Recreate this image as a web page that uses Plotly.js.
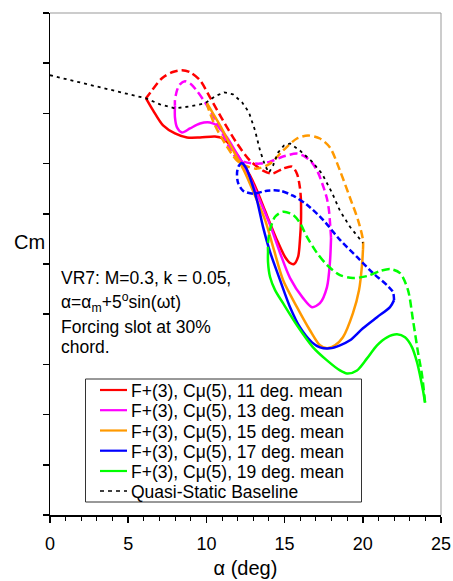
<!DOCTYPE html>
<html>
<head>
<meta charset="utf-8">
<script src="https://cdn.plot.ly/plotly-3.0.1.min.js"></script>
<style>
  html, body { margin: 0; padding: 0; background: #fff; }
  #chart { width: 453px; height: 581px; }
</style>
</head>
<body>
<div id="chart"></div>
<script>
// VR7 airfoil, pitching moment loops with slot forcing, F+(3), Cmu(5)
// Each loop: upstroke (solid) and downstroke (dashed), alpha = alpha_m + 5 sin(wt)

const mean11UpAlpha = [6.14,6.59,7.23,7.99,8.76,9.59,10.55,11.06,11.64,12.34,12.79,13.24,13.75,14.51,15.03,15.35,15.60,15.86,15.98,16.05,16.05];
const mean11UpCm    = [-0.085,-0.097,-0.112,-0.120,-0.124,-0.124,-0.123,-0.125,-0.134,-0.150,-0.162,-0.177,-0.197,-0.226,-0.243,-0.249,-0.250,-0.243,-0.226,-0.206,-0.187];
const mean11DownAlpha = [16.05,15.98,15.79,15.47,14.90,14.19,13.62,12.79,11.96,11.06,10.23,9.59,8.95,8.44,7.80,7.16,6.52,6.14];
const mean11DownCm    = [-0.187,-0.174,-0.160,-0.153,-0.155,-0.160,-0.157,-0.147,-0.130,-0.107,-0.084,-0.067,-0.059,-0.057,-0.059,-0.065,-0.077,-0.085];

const mean13UpAlpha = [7.99,7.99,8.12,8.44,8.95,9.59,10.23,10.68,11.32,11.83,12.34,12.79,13.43,14.07,14.71,15.35,16.18,16.75,17.26,17.71,17.90,17.97];
const mean13UpCm    = [-0.092,-0.104,-0.114,-0.119,-0.115,-0.110,-0.109,-0.112,-0.124,-0.137,-0.150,-0.164,-0.187,-0.211,-0.239,-0.264,-0.284,-0.293,-0.289,-0.273,-0.248,-0.224];
const mean13DownAlpha = [17.97,17.90,17.84,17.71,17.52,17.14,16.75,16.30,15.79,14.90,14.07,13.43,12.60,11.96,11.51,11.00,10.42,9.91,9.46,9.02,8.63,8.31,8.12,7.99,7.99];
const mean13DownCm    = [-0.224,-0.208,-0.197,-0.185,-0.175,-0.159,-0.149,-0.143,-0.140,-0.143,-0.148,-0.150,-0.149,-0.145,-0.135,-0.119,-0.102,-0.089,-0.079,-0.071,-0.068,-0.071,-0.077,-0.087,-0.092];

const mean15UpAlpha = [10.04,10.42,10.87,11.38,11.89,12.47,13.11,13.75,14.32,14.90,15.79,16.62,17.26,17.71,18.22,18.73,19.37,19.76,19.95,20.01];
const mean15UpCm    = [-0.090,-0.100,-0.112,-0.127,-0.142,-0.159,-0.182,-0.206,-0.236,-0.266,-0.293,-0.316,-0.331,-0.334,-0.331,-0.323,-0.299,-0.276,-0.251,-0.236];
const mean15DownAlpha = [20.01,20.01,19.69,19.18,18.54,17.90,17.26,16.50,15.79,14.90,14.07,13.24,12.47,11.96,11.19,10.55,10.10,10.04];
const mean15DownCm    = [-0.236,-0.226,-0.206,-0.184,-0.157,-0.134,-0.125,-0.122,-0.125,-0.137,-0.150,-0.155,-0.152,-0.147,-0.130,-0.112,-0.094,-0.090];

const mean17UpAlpha = [12.28,12.53,12.79,13.24,13.62,14.07,14.71,15.35,15.98,16.75,17.26,17.90,18.54,19.18,20.01,20.91,21.74,22.00];
const mean17UpCm    = [-0.149,-0.154,-0.164,-0.187,-0.213,-0.238,-0.266,-0.293,-0.313,-0.328,-0.333,-0.334,-0.331,-0.326,-0.314,-0.303,-0.293,-0.286];
const mean17DownAlpha = [22.00,21.93,21.61,20.65,19.63,18.54,17.46,16.43,15.54,14.71,13.87,12.98,12.34,12.02,11.96,12.08,12.28];
const mean17DownCm    = [-0.286,-0.278,-0.272,-0.259,-0.243,-0.226,-0.206,-0.191,-0.182,-0.177,-0.177,-0.180,-0.177,-0.169,-0.159,-0.152,-0.149];

const mean19UpAlpha = [13.94,13.94,14.07,14.39,14.90,15.79,16.82,17.71,18.54,18.99,19.63,20.27,20.91,21.55,22.19,22.70,23.15,23.47,23.66,23.85,23.98];
const mean19UpCm    = [-0.238,-0.248,-0.263,-0.276,-0.289,-0.311,-0.333,-0.346,-0.356,-0.359,-0.356,-0.344,-0.331,-0.323,-0.320,-0.323,-0.333,-0.348,-0.361,-0.376,-0.388];
const mean19DownAlpha = [23.98,23.79,23.53,23.21,22.89,22.38,21.74,21.10,20.27,19.37,18.54,17.71,17.07,16.43,15.98,15.54,14.90,14.39,14.07,13.94,13.94];
const mean19DownCm    = [-0.388,-0.361,-0.338,-0.306,-0.276,-0.259,-0.255,-0.257,-0.262,-0.264,-0.261,-0.251,-0.239,-0.223,-0.209,-0.201,-0.198,-0.203,-0.216,-0.229,-0.238];

const baselineAlpha = [0,6.14,7.03,7.99,8.95,9.91,10.55,11.13,11.70,12.28,12.72,13.11,13.43,13.75,14.00,14.26,14.58,14.96,15.35,15.98,16.75,17.39,18.03,18.54,19.18,19.69,20.01];
const baselineCm    = [-0.062,-0.085,-0.091,-0.095,-0.093,-0.090,-0.083,-0.079,-0.081,-0.089,-0.099,-0.117,-0.137,-0.152,-0.159,-0.152,-0.139,-0.132,-0.130,-0.137,-0.148,-0.160,-0.179,-0.197,-0.213,-0.223,-0.229];

const seriesNames = [
  'F+(3), C\u03bc(5), 11 deg. mean',
  'F+(3), C\u03bc(5), 13 deg. mean',
  'F+(3), C\u03bc(5), 15 deg. mean',
  'F+(3), C\u03bc(5), 17 deg. mean',
  'F+(3), C\u03bc(5), 19 deg. mean',
  'Quasi-Static Baseline'
];
const xTickValues = [0, 5, 10, 15, 20, 25];

const loops = [
  [mean11UpAlpha, mean11UpCm, mean11DownAlpha, mean11DownCm],
  [mean13UpAlpha, mean13UpCm, mean13DownAlpha, mean13DownCm],
  [mean15UpAlpha, mean15UpCm, mean15DownAlpha, mean15DownCm],
  [mean17UpAlpha, mean17UpCm, mean17DownAlpha, mean17DownCm],
  [mean19UpAlpha, mean19UpCm, mean19DownAlpha, mean19DownCm]
];
const colors = ['#ff0000', '#ff00ff', '#ff9900', '#0000ff', '#00ff00'];
const FONT = 'Liberation Sans, Arial, Helvetica, sans-serif';

const traces = [];
loops.forEach(function (lp, i) {
  traces.push({
    x: lp[0], y: lp[1], type: 'scatter', mode: 'lines', name: seriesNames[i],
    showlegend: false, hoverinfo: 'skip',
    line: { color: colors[i], width: 2.5, shape: 'spline', smoothing: 0.8 }
  });
  traces.push({
    x: lp[2], y: lp[3], type: 'scatter', mode: 'lines', name: seriesNames[i],
    showlegend: false, hoverinfo: 'skip',
    line: { color: colors[i], width: 2.5, dash: i === 3 ? '6px,3px' : '8px,4px', shape: 'spline', smoothing: 0.8 }
  });
});
traces.push({
  x: baselineAlpha, y: baselineCm, type: 'scatter', mode: 'lines', name: seriesNames[5],
  showlegend: false, hoverinfo: 'skip',
  line: { color: '#000000', width: 1.8, dash: '3px,4px' }
});

// Plot-area geometry (paper fractions) for the boxed key and the notes
const plotL = 50, plotT = 13, plotW = 391, plotH = 502;
const px2x = function (px) { return (px - plotL) / plotW; };
const py2y = function (py) { return (plotT + plotH - py) / plotH; };

const shapes = [
  // light frame on top and right
  { type: 'line', xref: 'paper', yref: 'paper', x0: 0, x1: 1, y0: 1, y1: 1, line: { color: '#999999', width: 1 } },
  { type: 'line', xref: 'paper', yref: 'paper', x0: 1, x1: 1, y0: 0, y1: 1, line: { color: '#999999', width: 1 } },
  // key box
  { type: 'rect', xref: 'paper', yref: 'paper', x0: px2x(85.5), x1: px2x(361.5), y0: py2y(502), y1: py2y(379),
    line: { color: '#333333', width: 1 }, fillcolor: '#ffffff', layer: 'above' }
];
const annotations = [];
const keyRows = [390, 410.2, 430.5, 450.7, 471, 491];
seriesNames.forEach(function (nm, i) {
  const c = i < 5 ? colors[i] : '#000000';
  shapes.push({
    type: 'line', xref: 'paper', yref: 'paper', layer: 'above',
    x0: px2x(100), x1: px2x(127), y0: py2y(keyRows[i]), y1: py2y(keyRows[i]),
    line: { color: c, width: i < 5 ? 2.2 : 1.6, dash: i < 5 ? 'solid' : '4px,4px' }
  });
  annotations.push({
    xref: 'paper', yref: 'paper', x: px2x(129), y: py2y(keyRows[i] + 1), xanchor: 'left', yanchor: 'middle',
    text: nm, showarrow: false, font: { family: FONT, size: 17.5, color: '#000' }
  });
});

const notes = [
  ['VR7: M=0.3, k = 0.05,', 278],
  ['\u03b1=\u03b1<sub>m</sub>+5<sup>o</sup>sin(\u03c9t)', 303],
  ['Forcing slot at 30%', 327],
  ['chord.', 347]
];
notes.forEach(function (n) {
  annotations.push({
    xref: 'paper', yref: 'paper', x: px2x(59), y: py2y(n[1]), xanchor: 'left', yanchor: 'middle',
    text: n[0], showarrow: false, font: { family: FONT, size: 17.5, color: '#000' }
  });
});
annotations.push({
  xref: 'paper', yref: 'paper', x: px2x(29), y: py2y(242), xanchor: 'center', yanchor: 'middle',
  text: 'Cm', showarrow: false, font: { family: FONT, size: 20, color: '#000' }
});

const layout = {
  width: 453, height: 581,
  margin: { l: plotL, r: 453 - plotL - plotW, t: plotT, b: 581 - plotT - plotH, pad: 0 },
  paper_bgcolor: '#fff', plot_bgcolor: '#fff',
  showlegend: false,
  font: { family: FONT, size: 18, color: '#000' },
  xaxis: {
    range: [0, 25], tickvals: xTickValues, ticktext: xTickValues.map(String),
    showgrid: false, zeroline: false, showline: true, linecolor: '#000', linewidth: 1.5,
    ticks: 'outside', ticklen: 6, tickwidth: 1.5, tickcolor: '#000',
    minor: { dtick: 1, ticks: 'outside', ticklen: 4, tickwidth: 1, tickcolor: '#000', showgrid: false },
    tickfont: { family: FONT, size: 18, color: '#000' },
    ticklabelstandoff: 6,
    title: { text: '\u03b1 (deg)', font: { family: FONT, size: 20, color: '#000' }, standoff: 8 },
    automargin: false, fixedrange: true
  },
  yaxis: {
    range: [-0.5, 0], dtick: 0.05, tick0: 0, showticklabels: false,
    showgrid: false, zeroline: false, showline: true, linecolor: '#000', linewidth: 1.5,
    ticks: 'outside', ticklen: 6, tickwidth: 1.5, tickcolor: '#000',
    automargin: false, fixedrange: true
  },
  shapes: shapes,
  annotations: annotations
};

Plotly.newPlot('chart', traces, layout, { staticPlot: true, displayModeBar: false });
</script>
</body>
</html>
